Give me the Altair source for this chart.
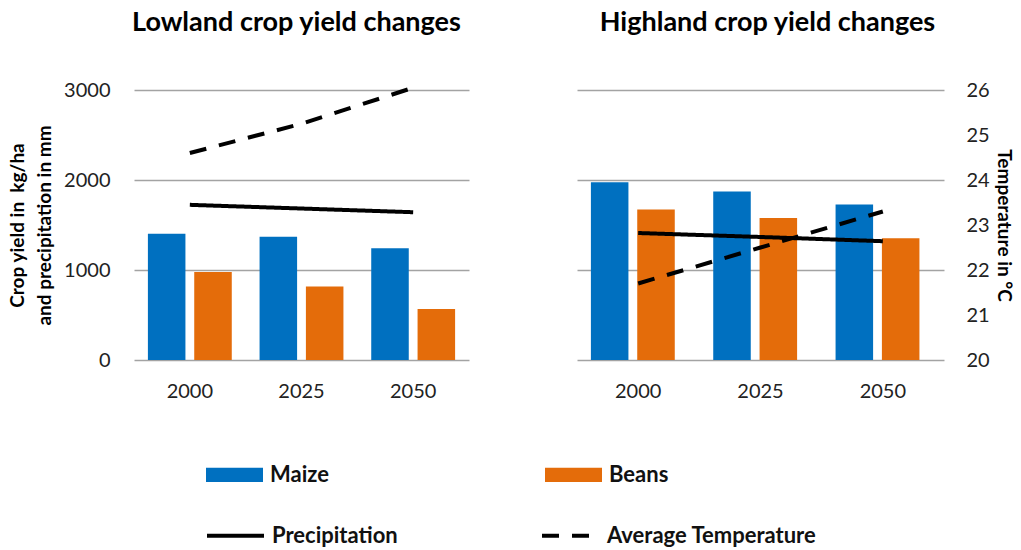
import altair as alt
import pandas as pd

# ---------------- data ----------------
years = ["2000", "2025", "2050"]
crops = ["Maize", "Beans"]
series = ["Precipitation", "Average Temperature"]

low_maize = [1403, 1369, 1243]
low_beans = [977, 817, 567]
low_precip = [1724, 1683, 1642]
low_temp = [24.6, 25.25, 26.05]

high_maize = [1974, 1871, 1727]
high_beans = [1672, 1577, 1352]
high_precip = [1411, 1367, 1320]
high_temp = [21.7, 22.5, 23.3]

BLUE = "#0070C0"
ORANGE = "#E46C0A"
FONT = "Lato"
GRID = "#A3A3A3"

color_legend = alt.Legend(
    title=None, orient="none", legendX=72, legendY=356,
    direction="horizontal", columns=2, columnPadding=216,
    symbolType="M-1,-0.25L1,-0.25L1,0.25L-1,0.25Z", symbolSize=3249,
    symbolStrokeWidth=0, symbolOpacity=1,
    labelFont=FONT, labelFontSize=22, labelFontWeight="bold", labelLimit=400,
    labelColor="#111111", labelOffset=7, padding=0,
)
dash_legend = alt.Legend(
    title=None, orient="none", legendX=71, legendY=415,
    direction="horizontal", columns=2, columnPadding=136,
    symbolType="stroke", symbolSize=3249, symbolStrokeWidth=4,
    symbolStrokeColor="black",
    labelFont=FONT, labelFontSize=22, labelFontWeight="bold", labelLimit=400,
    labelColor="#111111", labelOffset=6, padding=0,
)

color_scale = alt.Scale(domain=crops, range=[BLUE, ORANGE])
dash_scale = alt.Scale(domain=series, range=[[1, 0], [17, 13]])


def panel(title, dx, maize, beans, precip, temp, width, left_axis, right_axis):
    bar_df = pd.DataFrame({
        "Year": years * 2,
        "Crop": [crops[0]] * 3 + [crops[1]] * 3,
        "Value": maize + beans,
    })
    pr_df = pd.DataFrame({"Year": years, "Series": series[0], "Value": precip})
    tp_df = pd.DataFrame({"Year": years, "Series": series[1], "Value": temp})

    xs = alt.Scale(domain=years, paddingInner=0, paddingOuter=0)
    xax = alt.Axis(title=None, labelAngle=0, ticks=False, domain=False,
                   labelPadding=21, grid=False)
    ys = alt.Scale(domain=[0, 3000], nice=False)

    bars = alt.Chart(bar_df).mark_bar().encode(
        x=alt.X("Year:N", scale=xs, axis=xax),
        xOffset=alt.XOffset("Crop:N", sort=crops,
                            scale=alt.Scale(domain=crops, paddingInner=0.19, paddingOuter=0.3)),
        y=alt.Y("Value:Q", scale=ys, axis=left_axis),
        color=alt.Color("Crop:N", scale=color_scale, legend=color_legend, sort=crops),
    )
    pr = alt.Chart(pr_df).mark_line(color="black", strokeWidth=4).encode(
        x=alt.X("Year:N", scale=xs, axis=xax, bandPosition=0.5),
        y=alt.Y("Value:Q", scale=ys, axis=left_axis),
        strokeDash=alt.StrokeDash("Series:N", scale=dash_scale, legend=dash_legend, sort=series),
    )
    tp = alt.Chart(tp_df).mark_line(color="black", strokeWidth=4).encode(
        x=alt.X("Year:N", scale=xs, axis=xax, bandPosition=0.5),
        y=alt.Y("Value:Q", scale=alt.Scale(domain=[20, 26], nice=False, zero=False),
                axis=right_axis),
        strokeDash=alt.StrokeDash("Series:N", scale=dash_scale, legend=dash_legend, sort=series),
    )
    inner = alt.layer(bars, pr)
    return alt.layer(inner, tp).resolve_scale(y="independent").properties(
        width=width, height=270,
        title=alt.TitleParams(title, font=FONT, fontSize=27, fontWeight="bold",
                              color="#000000", offset=43, dx=dx),
    )


left_axis_l = alt.Axis(
    title=["Crop yield in\u00a0 kg/ha", "and precipitation in mm"],
    values=[0, 1000, 2000, 3000], format="d", grid=True, gridColor=GRID, gridWidth=1.5,
    domain=False, ticks=False, labelPadding=24, titlePadding=9,
    titleFont=FONT, titleFontSize=19, titleFontWeight="bold", titleLineHeight=27,
    titleColor="#000000",
)
left_axis_r = alt.Axis(
    title=None, values=[0, 1000, 2000, 3000], format="d", grid=True, gridColor=GRID,
    gridWidth=1.5, domain=False, ticks=False, labels=False, minExtent=0, maxExtent=0,
)
right_axis_r = alt.Axis(
    title="Temperature in °C", orient="right", values=[20, 21, 22, 23, 24, 25, 26],
    format="d", grid=False, domain=False, ticks=False, labelPadding=22, titlePadding=4,
    titleFont=FONT, titleFontSize=19, titleFontWeight="bold", titleColor="#000000",
)

left = panel("Lowland crop yield changes", -5, low_maize, low_beans, low_precip,
             low_temp, 335, left_axis_l, None)
right = panel("Highland crop yield changes", 7, high_maize, high_beans, high_precip,
              high_temp, 367, left_axis_r, right_axis_r)

chart = alt.hconcat(left, right, spacing=108).resolve_scale(
    x="independent", y="independent", color="shared", strokeDash="shared"
).properties(
    padding={"left": 0, "top": 0, "right": 0, "bottom": 0},
).configure_view(stroke=None).configure_axis(
    labelFont=FONT, labelFontSize=20, labelColor="#222222",
).configure_title(anchor="middle")

chart.save("out.html", embed_options={"renderer": "svg", "actions": False})
